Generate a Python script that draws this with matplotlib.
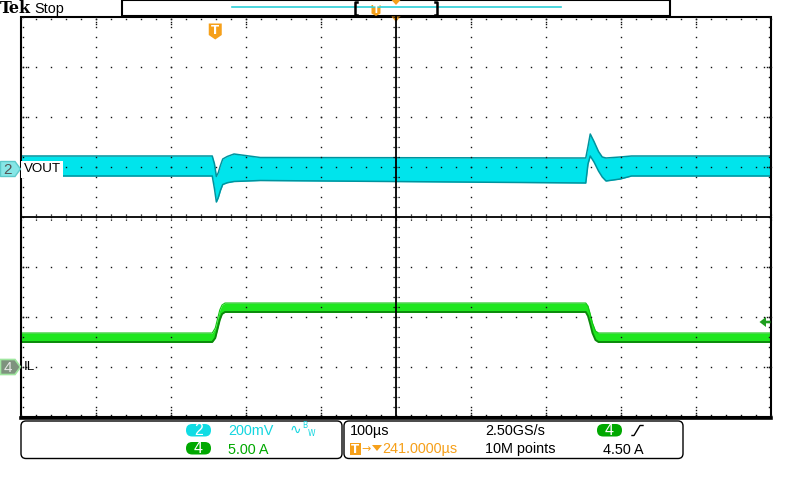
import numpy as np
import matplotlib.pyplot as plt
from matplotlib.patches import Rectangle, FancyBboxPatch, Polygon

plt.rcParams['font.family'] = ['Liberation Sans', 'DejaVu Sans']

# ---- trace envelopes (time in us after trigger) ----
vout_time = [-259, -4, -1, 1.5, 4, 7, 10, 16, 25, 60, 494, 497, 500, 505, 511, 516, 521, 540, 555, 741]
vout_upper = [52, 52, 20, -30, -15, 15, 40, 50, 60, 46, 44, 90, 140, 110, 70, 48, 44, 48, 52, 52]      # mV
vout_lower = [-28, -28, -80, -132, -115, -85, -62, -55, -50, -46, -56, 20, 52, 28, -8, -32, -48, -40, -28, -28]

il_time = [-259, -4, 0, 3, 6, 9, 13, 494, 497, 500, 503, 507, 511, 741]
il_upper = [3.4, 3.4, 3.9, 4.8, 5.7, 6.2, 6.4, 6.4, 6.1, 5.3, 4.4, 3.6, 3.4, 3.4]   # A
il_lower = [2.5, 2.5, 2.9, 3.8, 4.7, 5.3, 5.5, 5.5, 5.1, 4.3, 3.4, 2.7, 2.5, 2.5]

# ---- scope settings ----
time_per_div = 100.0    # us
horiz_pos = 241.0       # us from trigger to screen centre
vout_scale = 200.0      # mV/div
il_scale = 5.0          # A/div
vout_pos = 0.96         # div above centre
il_pos = -3.0
trig_level = 4.50

CYAN = '#00E4EC'
CYAN_DK = '#00939E'
GREEN = '#1EE61E'
GREEN_DK = '#0B8A0B'
GREEN_TXT = '#00A800'
CYAN_TXT = '#14D6E0'
ORANGE = '#F6A01A'
FS = 10.4

L, R, T, B = 21, 771, 17, 417
DX, DY = 75, 50
CX, CY = L + 5 * DX, T + 4 * DY

fig = plt.figure(figsize=(8, 4.8), dpi=100)
fig.patch.set_facecolor('white')

# trace axes, placed on the graticule
ax = fig.add_axes([L / 800, (480 - B) / 480, (R - L) / 800, (B - T) / 480])
ax.set_xlim(horiz_pos - 5 * time_per_div, horiz_pos + 5 * time_per_div)
ax.set_ylim((-4 - il_pos) * il_scale, (4 - il_pos) * il_scale)
ax.axis('off')
ax.fill_between(il_time, il_lower, il_upper, color=GREEN, lw=0)
ax.plot(il_time, il_lower, color=GREEN_DK, lw=1.4)
ax.plot(il_time, il_upper, color='#12C412', lw=0.8)

ax2 = ax.twinx()
ax2.set_ylim((-4 - vout_pos) * vout_scale, (4 - vout_pos) * vout_scale)
ax2.axis('off')
ax2.fill_between(vout_time, vout_lower, vout_upper, color=CYAN, lw=0)
ax2.plot(vout_time, vout_lower, color=CYAN_DK, lw=1.1)
ax2.plot(vout_time, vout_upper, color=CYAN_DK, lw=1.1)

# overlay in screen pixels
hud = fig.add_axes([0, 0, 1, 1])
hud.set_xlim(0, 800)
hud.set_ylim(480, 0)
hud.axis('off')
hud.set_zorder(10)
hud.patch.set_alpha(0)

dot = dict(ls='none', marker='s', ms=1.0, mew=0, color='#111111')

# dotted graticule
for i in range(1, 10):
    if i == 5:
        continue
    ys = np.arange(T, B + 0.1, 10.0)
    hud.plot(np.full_like(ys, L + i * DX), ys, **dot)
    for y0, sgn in ((T, 1), (B, -1)):
        hud.plot([L + i * DX] * 3, [y0 + sgn * 2, y0 + sgn * 4.5, y0 + sgn * 7], **dot)
for j in range(1, 8):
    if j == 4:
        continue
    xs = np.arange(L, R + 0.1, 15.0)
    hud.plot(xs, np.full_like(xs, T + j * DY), **dot)
    for x0, sgn in ((L, 1), (R, -1)):
        hud.plot([x0 + sgn * 2, x0 + sgn * 4.5, x0 + sgn * 7], [T + j * DY] * 3, **dot)

# edge minor ticks
xs = np.arange(L, R + 0.1, 15.0)
hud.plot(xs, np.full_like(xs, T + 2), **dot)
hud.plot(xs, np.full_like(xs, B - 2), **dot)
ys = np.arange(T, B + 0.1, 10.0)
hud.plot(np.full_like(ys, L + 2), ys, **dot)
hud.plot(np.full_like(ys, R - 2), ys, **dot)

# centre cross
hud.plot([L, R], [CY, CY], color='k', lw=1.3)
hud.plot([CX, CX], [T, B], color='k', lw=1.3)
for x in np.arange(L, R + 0.1, 15.0):
    hud.plot([x, x], [CY - 3.5, CY + 3.5], color='k', lw=0.9, ls=(0, (1, 1)))
for y in np.arange(T, B + 0.1, 10.0):
    hud.plot([CX - 3.5, CX + 3.5], [y, y], color='k', lw=0.9, ls=(0, (1, 1)))

# frame
hud.add_patch(Rectangle((L, T), R - L, B - T, fill=False, ec='k', lw=1.5))
hud.plot([L, R], [B + 0.5, B + 0.5], color='k', lw=2.6)

# top status bar
hud.text(-0.5, 8.5, 'Tek', fontsize=11.5, fontweight='bold', family='DejaVu Serif', va='center', ha='left')
hud.text(34, 8.5, 'Stop', fontsize=FS, va='center', ha='left')
hud.add_patch(Rectangle((121.5, 0), 548.5, 15.5, fill=False, ec='k', lw=1.5))
hud.plot([232, 561], [7.3, 7.3], color='#2CD0D8', lw=1.2)
hud.plot([357, 354.5, 354.5, 357], [2, 2, 14.5, 14.5], color='k', lw=1.8)
hud.plot([434.5, 437, 437, 434.5], [2, 2, 14.5, 14.5], color='k', lw=1.8)
hud.add_patch(Polygon([[371.5, 5], [380.5, 5], [380.5, 13.5], [376, 16], [371.5, 13.5]], fc=ORANGE, ec='none'))
hud.text(376, 10, 'T', color='white', fontsize=7, fontweight='bold', family='DejaVu Sans',
         ha='center', va='center')
hud.add_patch(Polygon([[391.5, 0], [400.5, 0], [396, 5]], fc=ORANGE, ec='none'))
hud.add_patch(Polygon([[391.5, 16.5], [400.5, 16.5], [396, 22]], fc=ORANGE, ec='none'))

# trigger point marker
tx = L + (0 - (horiz_pos - 5 * time_per_div)) / time_per_div * DX
hud.add_patch(Polygon([[tx - 6.5, 23.5], [tx + 6.5, 23.5], [tx + 6.5, 35], [tx, 39.5], [tx - 6.5, 35]],
                      fc=ORANGE, ec='none'))
hud.text(tx, 30.5, 'T', color='white', fontsize=8.5, fontweight='bold', family='DejaVu Sans',
         ha='center', va='center')

# channel markers
y2 = CY - vout_pos * DY
hud.add_patch(Polygon([[0.5, y2 - 7.5], [15, y2 - 7.5], [20.5, y2], [15, y2 + 7.5], [0.5, y2 + 7.5]],
                      fc='#86E6E6', ec='#5CCACA', lw=1))
hud.text(8, y2 + 0.5, '2', color='#555555', fontsize=11, ha='center', va='center')
hud.text(23.5, y2 + 0.5, 'VOUT', fontsize=9.6, ha='left', va='center',
         bbox=dict(fc='white', ec='none', pad=1.5))

y4 = CY - il_pos * DY
hud.add_patch(Polygon([[0.5, y4 - 7.5], [15, y4 - 7.5], [20.5, y4], [15, y4 + 7.5], [0.5, y4 + 7.5]],
                      fc='#7E927E', ec='#9FE69F', lw=1.2))
hud.text(8, y4 + 0.5, '4', color='#E6E6E6', fontsize=11, ha='center', va='center')
hud.text(24, y4 + 0.5, 'IL', fontsize=9.6, ha='left', va='center')

# trigger level arrow
yt = CY - (trig_level / il_scale + il_pos) * DY
hud.add_patch(Polygon([[759.5, yt], [766, yt - 5], [766, yt - 1.3], [770.5, yt - 1.3],
                       [770.5, yt + 1.3], [766, yt + 1.3], [766, yt + 5]], fc='#1E9E1E', ec='none'))

# bottom readout boxes
hud.add_patch(FancyBboxPatch((21, 421), 321, 37.5, boxstyle='round,pad=0,rounding_size=5',
                             fc='white', ec='k', lw=1))
hud.add_patch(FancyBboxPatch((344, 421), 339, 37.5, boxstyle='round,pad=0,rounding_size=5',
                             fc='white', ec='k', lw=1))


def pill(x, y, label, color):
    hud.add_patch(FancyBboxPatch((x, y), 25, 12.5, boxstyle='round,pad=0,rounding_size=6.2',
                                 fc=color, ec='none'))
    hud.text(x + 12.5, y + 6.8, label, color='white', fontsize=11.5, ha='center', va='center')


pill(186, 424, '2', '#10DCE4')
hud.text(228, 431, '%dmV' % vout_scale, color=CYAN_TXT, fontsize=FS, ha='left', va='center')
hud.text(290, 430, '\u223f', color=CYAN_TXT, fontsize=10, family='DejaVu Sans', ha='left', va='center')
hud.text(302, 426, 'B', color=CYAN_TXT, fontsize=5.5, family='DejaVu Sans', ha='left', va='center')
hud.text(307.5, 434, 'W', color=CYAN_TXT, fontsize=5.5, family='DejaVu Sans', ha='left', va='center')

pill(186, 442, '4', GREEN_TXT)
hud.text(228, 449.5, '%.2f A' % il_scale, color=GREEN_TXT, fontsize=FS, ha='left', va='center')

hud.text(350, 431, '%dµs' % time_per_div, fontsize=FS, ha='left', va='center')
hud.add_patch(Rectangle((349.5, 443), 11.5, 12, fc=ORANGE, ec='none'))
hud.text(355.3, 449.5, 'T', color='white', fontsize=8.5, fontweight='bold', family='DejaVu Sans',
         ha='center', va='center')
hud.text(361.5, 449.5, '\u2192', color=ORANGE, fontsize=8, family='DejaVu Sans', ha='left', va='center')
hud.add_patch(Polygon([[372, 445], [382, 445], [377, 451]], fc=ORANGE, ec='none'))
hud.text(382, 449.5, '%.4fµs' % horiz_pos, color=ORANGE, fontsize=FS, ha='left', va='center')

hud.text(485, 431, '2.50GS/s', fontsize=FS, ha='left', va='center')
hud.text(485, 449.5, '10M points', fontsize=FS, ha='left', va='center')

pill(597, 424, '4', GREEN_TXT)
hud.plot([632, 634, 640, 643], [435.5, 435.5, 425.5, 425.5], color='k', lw=1)
hud.text(603, 449.5, '%.2f A' % trig_level, fontsize=FS, ha='left', va='center')

fig.savefig('out.png', dpi=100)
